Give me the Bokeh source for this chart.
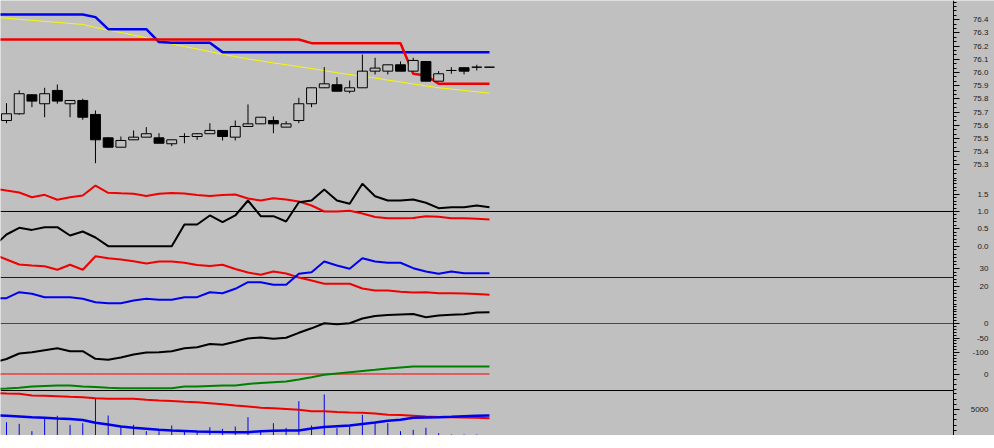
import numpy as np
from bokeh.plotting import figure
from bokeh.models import Range1d, LinearAxis, FixedTicker, ColumnDataSource, LabelSet
from bokeh.core.properties import value
from bokeh.embed import file_html
from bokeh.resources import INLINE

# ---------------- data ----------------
bar = list(range(0, 39))          # candle index
idx = list(range(-1, 39))         # indicator index (one bar before the first candle)

open_ = [75.636, 75.687, 75.831, 75.763, 75.864, 75.763, 75.788, 75.682, 75.505, 75.434,
         75.490, 75.510, 75.505, 75.460, 75.515, 75.515, 75.536, 75.561, 75.510, 75.591,
         75.611, 75.636, 75.586, 75.636, 75.763, 75.884, 75.907, 75.858, 75.884, 76.010,
         76.010, 76.058, 76.010, 76.083, 75.934, 76.015, 76.036, 76.040, 76.040]
high = [75.767, 75.864, 75.835, 75.884, 75.909, 75.790, 75.801, 75.712, 75.510, 75.515,
        75.561, 75.586, 75.540, 75.490, 75.540, 75.540, 75.616, 75.561, 75.636, 75.758,
        75.661, 75.667, 75.631, 75.808, 75.884, 76.040, 75.964, 75.939, 76.136, 76.111,
        76.058, 76.083, 76.111, 76.083, 76.010, 76.040, 76.036, 76.058, 76.040]
low = [75.616, 75.680, 75.737, 75.661, 75.763, 75.661, 75.642, 75.313, 75.430, 75.434,
       75.490, 75.510, 75.464, 75.442, 75.464, 75.490, 75.536, 75.485, 75.485, 75.591,
       75.611, 75.540, 75.586, 75.616, 75.737, 75.884, 75.858, 75.843, 75.884, 75.985,
       75.985, 76.010, 76.010, 75.934, 75.934, 75.990, 75.985, 76.015, 76.040]
close = [75.687, 75.839, 75.783, 75.839, 75.783, 75.788, 75.661, 75.490, 75.434, 75.485,
         75.510, 75.536, 75.464, 75.490, 75.515, 75.536, 75.561, 75.515, 75.591, 75.611,
         75.661, 75.611, 75.611, 75.763, 75.884, 75.914, 75.858, 75.884, 76.010, 76.033,
         76.058, 76.010, 76.091, 75.934, 75.990, 76.015, 76.010, 76.040, 76.040]

upper_band = [76.439, 76.439, 76.439, 76.439, 76.439, 76.439, 76.439, 76.439, 76.419, 76.328,
              76.328, 76.328, 76.328, 76.230, 76.225, 76.225, 76.225, 76.225, 76.154, 76.154,
              76.154, 76.154, 76.154, 76.154, 76.154, 76.154, 76.154, 76.154, 76.154, 76.154,
              76.154, 76.154, 76.154, 76.154, 76.154, 76.154, 76.154, 76.154, 76.154, 76.154]
lower_band = [76.250, 76.250, 76.250, 76.250, 76.250, 76.250, 76.250, 76.250, 76.250, 76.250,
              76.250, 76.250, 76.250, 76.250, 76.250, 76.250, 76.250, 76.250, 76.250, 76.250,
              76.250, 76.250, 76.250, 76.250, 76.250, 76.222, 76.222, 76.222, 76.222, 76.222,
              76.222, 76.222, 76.222, 75.990, 75.977, 75.914, 75.914, 75.914, 75.914, 75.914]
ma_line = [76.418, 76.411, 76.403, 76.395, 76.387, 76.380, 76.371, 76.364, 76.341, 76.320,
           76.303, 76.282, 76.263, 76.237, 76.216, 76.196, 76.178, 76.158, 76.138, 76.120,
           76.102, 76.088, 76.072, 76.059, 76.044, 76.030, 76.014, 75.998, 75.984, 75.972,
           75.959, 75.942, 75.928, 75.913, 75.898, 75.884, 75.874, 75.864, 75.854, 75.843]

ind1_red = [1.663, 1.605, 1.548, 1.412, 1.481, 1.337, 1.412, 1.461, 1.749, 1.539,
            1.524, 1.510, 1.447, 1.510, 1.533, 1.519, 1.476, 1.447, 1.476, 1.490,
            1.375, 1.317, 1.383, 1.346, 1.288, 1.173, 1.000, 1.000, 1.020, 0.942,
            0.841, 0.807, 0.807, 0.813, 0.865, 0.847, 0.807, 0.807, 0.790, 0.769]
ind1_black = [0.000, 0.337, 0.530, 0.470, 0.548, 0.548, 0.308, 0.424, 0.251, 0.000,
              0.000, 0.000, 0.000, 0.000, 0.000, 0.625, 0.625, 0.885, 0.692, 0.885,
              1.317, 0.865, 0.865, 0.712, 1.268, 1.317, 1.634, 1.317, 1.222, 1.798,
              1.441, 1.317, 1.317, 1.346, 1.251, 1.095, 1.124, 1.124, 1.173, 1.124]

di_red = [37.78, 35.00, 32.22, 31.67, 31.28, 29.28, 32.06, 29.28, 36.83, 35.72,
          35.00, 34.06, 32.78, 33.89, 33.89, 33.17, 31.94, 31.39, 32.06, 29.72,
          27.78, 26.50, 28.33, 27.22, 25.00, 23.33, 21.50, 21.50, 21.50, 18.89,
          17.78, 17.78, 17.06, 16.67, 16.83, 16.28, 16.28, 16.11, 15.83, 15.39]
di_blue = [13.33, 13.50, 16.83, 15.94, 14.06, 14.06, 14.06, 13.17, 11.28, 10.72,
           10.72, 12.22, 13.17, 12.61, 12.61, 14.06, 14.06, 16.83, 16.28, 18.72,
           22.39, 22.39, 20.94, 20.94, 27.06, 27.94, 33.89, 31.67, 29.83, 35.72,
           33.89, 33.17, 33.17, 30.17, 28.33, 27.06, 28.33, 27.39, 27.39, 27.39]

osc_black = [-134.5, -122.4, -103.4, -99.0, -92.1, -85.2, -95.5, -95.5, -121.7, -125.2,
             -117.2, -106.9, -100.0, -99.0, -95.5, -85.2, -81.7, -70.7, -73.4, -63.1,
             -51.7, -48.3, -52.8, -49.3, -32.1, -16.6, 1.0, -2.4, 1.0, 17.2,
             25.9, 29.3, 31.0, 32.8, 21.7, 27.6, 30.0, 31.7, 37.9, 39.0]

osc2_green = [-30.0, -29.0, -27.6, -25.0, -24.0, -23.0, -23.0, -25.0, -26.0, -27.4,
              -28.4, -28.4, -28.4, -28.4, -28.4, -25.0, -25.0, -24.0, -23.0, -23.0,
              -20.0, -18.0, -16.4, -15.0, -11.0, -6.4, -1.6, 1.0, 3.6, 6.0,
              8.4, 11.0, 13.0, 15.0, 15.0, 15.0, 15.0, 15.0, 15.0, 15.0]
osc2_red = [0.0] * 40

volume = [2558, 2250, 827, 3327, 3788, 2058, 2365, 7058, 3846, 1731,
          2058, 827, 827, 1923, 962, 769, 1596, 1288, 1731, 3519,
          962, 2365, 1481, 6596, 1923, 7885, 1404, 1731, 3981, 2558,
          2365, 827, 1096, 1481, 442, 192, 192, 192, 96]
vol_red = [8173, 8077, 8019, 7692, 7634, 7557, 7442, 7346, 7173, 7058,
           7058, 7058, 6884, 6731, 6615, 6481, 6384, 6192, 6000, 5769,
           5577, 5327, 5250, 5096, 4942, 4673, 4673, 4519, 4423, 4365,
           4231, 4000, 3961, 3807, 3654, 3577, 3519, 3461, 3423, 3327]
vol_blue = [3904, 3788, 3654, 3500, 3404, 3269, 3173, 2981, 2442, 2115,
            1731, 1481, 1308, 1096, 962, 865, 769, 712, 673, 635,
            635, 827, 904, 962, 962, 1346, 1635, 1788, 1923, 2211,
            2500, 2846, 3038, 3404, 3461, 3519, 3596, 3692, 3788, 3846]

# tick labels and level lines
price_ticks = [75.3, 75.4, 75.5, 75.6, 75.7, 75.8, 75.9, 76.0, 76.1, 76.2, 76.3, 76.4]
price_labels = ["75.3", "75.4", "75.5", "75.6", "75.7", "75.8", "75.9", "76.0", "76.1", "76.2", "76.3", "76.4"]
ind1_ticks = [0.0, 0.5, 1.0, 1.5]
ind1_labels = ["0.0", "0.5", "1.0", "1.5"]
di_ticks = [20, 30]
di_labels = ["20", "30"]
osc_ticks = [-100, -50, 0]
osc_labels = ["-100", "-50", "0"]
osc2_ticks = [0]
osc2_labels = ["0"]
vol_ticks = [5000]
vol_labels = ["5000"]
ind1_level = 1.0
di_level = 25
osc_level = 0
vol_level = 8650

# ---------------- style / layout ----------------
BG = "#C0C0C0"
RED = "#F00000"
BLUE = "#0000F0"
YELLOW = "#F8F800"
GREEN = "#008000"
W, H = 994, 435
AXIS_PX = 953              # screen x of the value axis
LABEL_RIGHT = 988          # right edge of the tick labels (screen px)
PX_PER_BAR = 12.71
X_START = -6 / PX_PER_BAR
X_END = X_START + W / PX_PER_BAR
X_AXIS = X_START + AXIS_PX / PX_PER_BAR

# panel bands: (top px, value at top, bottom px, value at bottom)
BANDS = {
    "default": (0, 76.545, 178, 75.197),
    "ind1": (178, 1.951, 250, -0.124),
    "di": (250, 40.0, 305, 9.444),
    "osc": (305, 62.07, 363, -137.93),
    "osc2": (363, 21.0, 389, -31.0),
    "vol": (389, 8846.0, 435, 0.0),
}


def full_range(name):
    px0, v0, px1, v1 = BANDS[name]
    k = (v1 - v0) / (px1 - px0)
    return Range1d(v0 + (H - px0) * k, v0 - px0 * k)


p = figure(width=W, height=H, x_range=Range1d(X_START, X_END), y_range=full_range("default"),
           output_backend="svg", toolbar_location=None,
           x_axis_type=None, y_axis_type=None, min_border=0,
           min_border_left=0, min_border_right=0, min_border_top=0, min_border_bottom=0,
           background_fill_color=BG, border_fill_color=BG, outline_line_color=None)
p.grid.visible = False
p.extra_y_ranges = {n: full_range(n) for n in BANDS if n != "default"}


def scale(name, major, labels, minor_step):
    px0, v0, px1, v1 = BANDS[name]
    lo = np.ceil(v1 / minor_step) * minor_step
    minor = [float(round(v, 5)) for v in np.arange(lo, v0, minor_step)]
    ax = LinearAxis(y_range_name=name, fixed_location=X_AXIS, bounds=(v1, v0),
                    ticker=FixedTicker(ticks=major, minor_ticks=minor),
                    axis_line_color="black", axis_line_width=1,
                    major_tick_line_color="black", minor_tick_line_color="black",
                    major_tick_out=6, major_tick_in=0, minor_tick_out=3, minor_tick_in=0,
                    major_label_standoff=0, major_label_text_font_size="8px",
                    major_label_text_color=None)
    p.add_layout(ax, "right")
    src = ColumnDataSource(dict(y=major, text=labels))
    p.add_layout(LabelSet(x=LABEL_RIGHT, x_units="screen", y="y", text="text", source=src,
                          y_range_name=name, text_align="right", text_baseline="middle",
                          text_font=value("Liberation Sans"), text_font_size=value("8px"),
                          text_color="#202020"))


def level(name, y, color):
    p.segment(x0=[X_START], y0=[y], x1=[X_AXIS], y1=[y], y_range_name=name,
              line_color=color, line_width=1)


scale("default", price_ticks, price_labels, 0.1 / 3)
scale("ind1", ind1_ticks, ind1_labels, 0.1)
scale("di", di_ticks, di_labels, 2)
scale("osc", osc_ticks, osc_labels, 10)
scale("osc2", osc2_ticks, osc2_labels, 10)
scale("vol", vol_ticks, vol_labels, 1000)

# price panel
p.line(idx, ma_line, line_color=YELLOW, line_width=1)
p.line(idx, upper_band, line_color=BLUE, line_width=2.5)
p.line(idx, lower_band, line_color=RED, line_width=2.5)
p.segment(x0=bar, y0=low, x1=bar, y1=high, line_color="black", line_width=1)
body_top = [max(o, c) for o, c in zip(open_, close)]
body_bot = [min(o, c) for o, c in zip(open_, close)]
body_fill = ["black" if c < o else BG for o, c in zip(open_, close)]
p.vbar(x=bar, width=0.78, top=body_top, bottom=body_bot,
       fill_color=body_fill, line_color="black", line_width=1)

# indicator 1
level("ind1", ind1_level, "black")
p.line(idx, ind1_red, y_range_name="ind1", line_color=RED, line_width=2)
p.line(idx, ind1_black, y_range_name="ind1", line_color="black", line_width=2)

# DI panel
level("di", di_level, BLUE)
p.line(idx, di_red, y_range_name="di", line_color=RED, line_width=2)
p.line(idx, di_blue, y_range_name="di", line_color=BLUE, line_width=2)

# oscillator
level("osc", osc_level, RED)
p.line(idx, osc_black, y_range_name="osc", line_color="black", line_width=2)

# oscillator 2
p.line(idx, osc2_red, y_range_name="osc2", line_color=RED, line_width=1)
p.line(idx, osc2_green, y_range_name="osc2", line_color=GREEN, line_width=2)

# volume
level("vol", vol_level, "black")
p.segment(x0=bar, y0=[0] * len(bar), x1=bar, y1=volume, y_range_name="vol",
          line_color=BLUE, line_width=1)
p.line(idx, vol_red, y_range_name="vol", line_color=RED, line_width=2)
p.line(idx, vol_blue, y_range_name="vol", line_color=BLUE, line_width=2.5)

open("out.html", "w").write(file_html(p, INLINE))
